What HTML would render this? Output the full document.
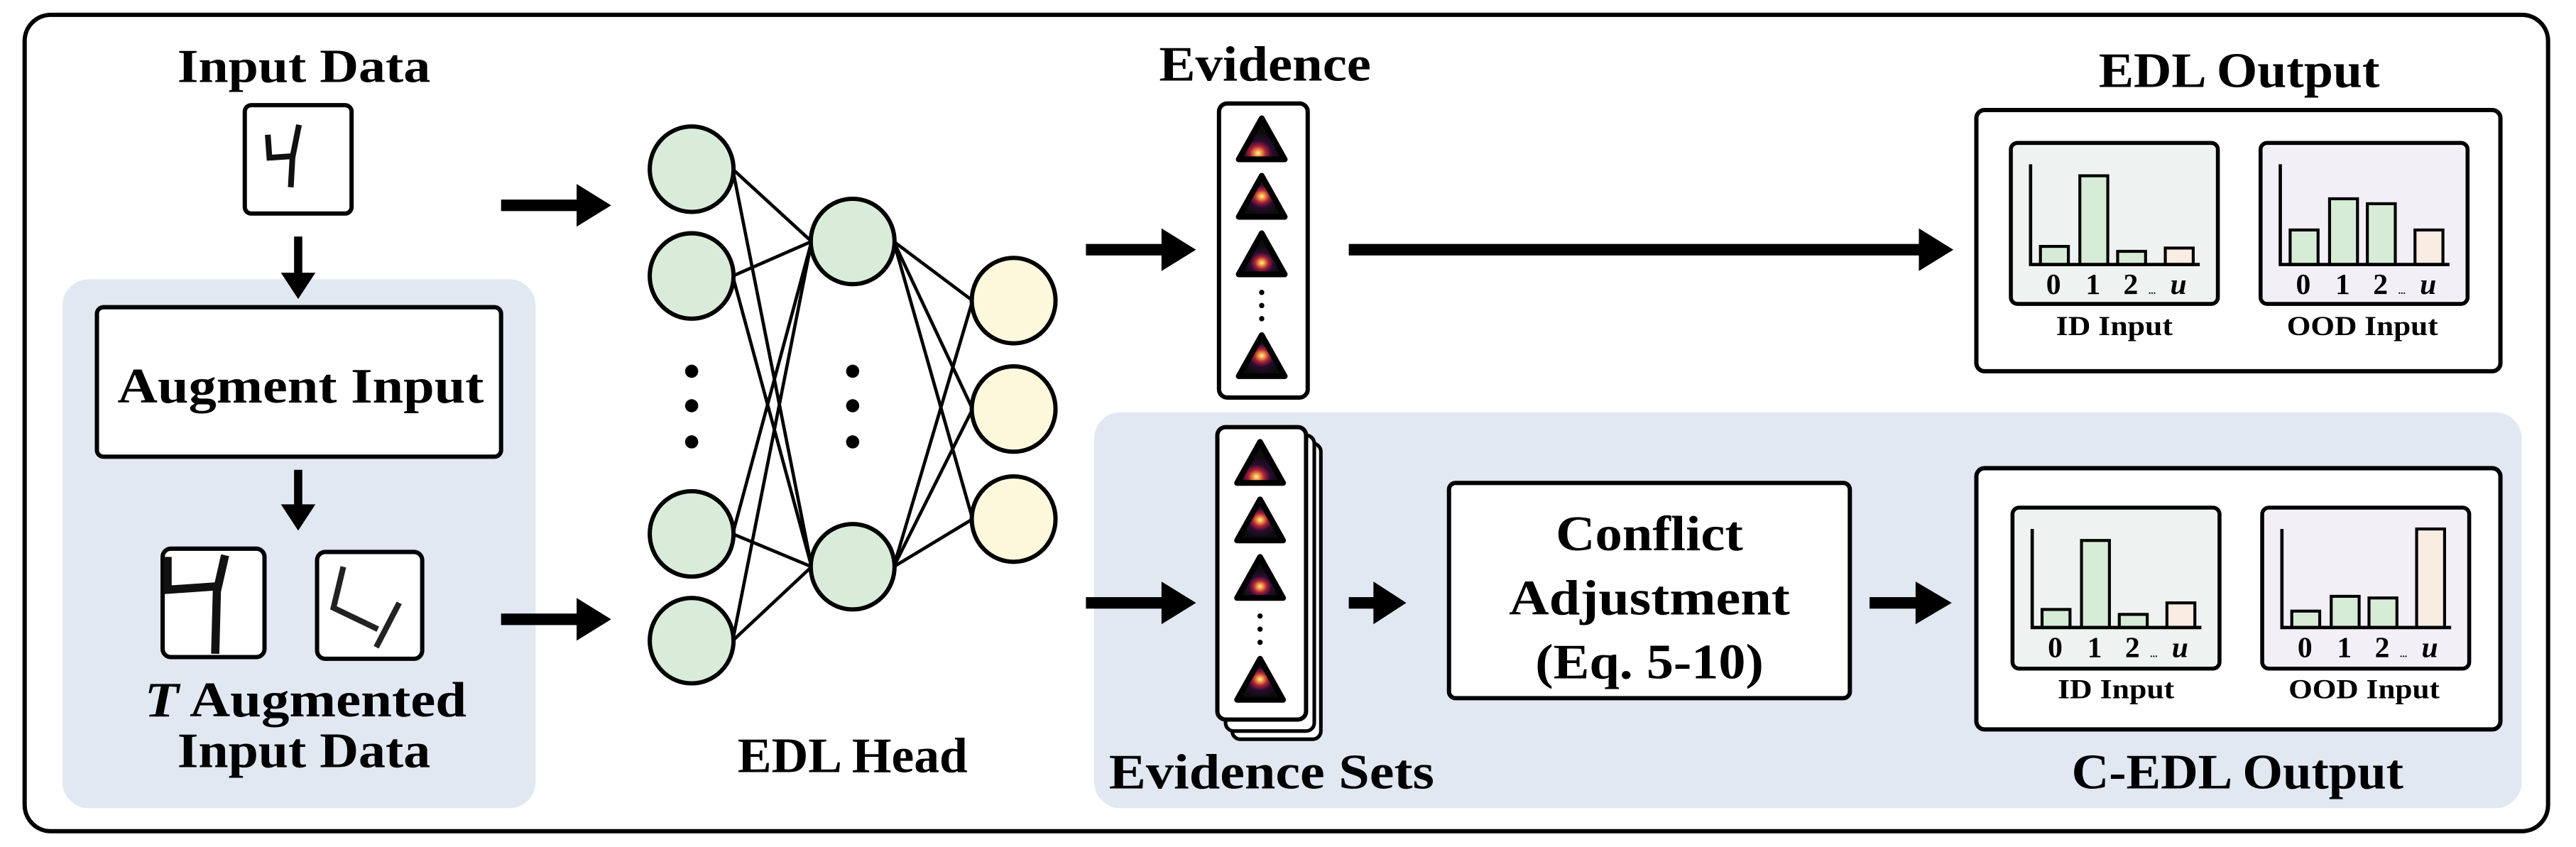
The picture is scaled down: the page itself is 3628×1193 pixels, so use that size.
<!DOCTYPE html>
<html><head><meta charset="utf-8"><style>
html,body{margin:0;padding:0;background:#fff;}
svg{display:block;}
text{font-family:"Liberation Serif",serif;font-weight:bold;fill:#000;}
</style></head><body>
<svg width="3628" height="1193" viewBox="0 0 1568 515.6" preserveAspectRatio="none" xmlns="http://www.w3.org/2000/svg">
<defs>
<radialGradient id="g1" cx="0.42" cy="0.85" r="0.5"><stop offset="0" stop-color="#fff3c0"/><stop offset="0.15" stop-color="#f49a3a"/><stop offset="0.35" stop-color="#a8203c"/><stop offset="0.6" stop-color="#2a0c30"/><stop offset="1" stop-color="#0c0c0c"/></radialGradient>
<radialGradient id="g2" cx="0.5" cy="0.5" r="0.45"><stop offset="0" stop-color="#fff3c0"/><stop offset="0.15" stop-color="#f49a3a"/><stop offset="0.35" stop-color="#a8203c"/><stop offset="0.6" stop-color="#2a0c30"/><stop offset="1" stop-color="#0c0c0c"/></radialGradient>
<radialGradient id="g3" cx="0.5" cy="0.72" r="0.42"><stop offset="0" stop-color="#fff3c0"/><stop offset="0.15" stop-color="#f49a3a"/><stop offset="0.35" stop-color="#a8203c"/><stop offset="0.6" stop-color="#2a0c30"/><stop offset="1" stop-color="#0c0c0c"/></radialGradient>
<g id="tri1"><path d="M0,-13 L14,12 L-14,12 Z" fill="url(#g1)" stroke="#000" stroke-width="3.5" stroke-linejoin="round"/></g>
<g id="tri2"><path d="M0,-13 L14,12 L-14,12 Z" fill="url(#g2)" stroke="#000" stroke-width="3.5" stroke-linejoin="round"/></g>
<g id="tri3"><path d="M0,-13 L14,12 L-14,12 Z" fill="url(#g3)" stroke="#000" stroke-width="3.5" stroke-linejoin="round"/></g>
<g id="arrR"><rect x="0" y="-3.5" width="48" height="7" fill="#000"/><path d="M46,-13 L67,0 L46,13 Z" fill="#000"/></g>
<g id="col">
  <use href="#tri1" x="0" y="0"/><use href="#tri2" x="0" y="35"/><use href="#tri3" x="0" y="70"/>
  <circle cx="0" cy="93" r="1.6"/><circle cx="0" cy="101" r="1.6"/><circle cx="0" cy="109" r="1.6"/>
  <use href="#tri2" x="0" y="132"/>
</g>
</defs>

<rect x="15" y="9" width="1536" height="497" rx="16" fill="#fff" stroke="#000" stroke-width="2.6"/>
<rect x="38" y="170" width="288" height="322" rx="16" fill="#e1e8f1"/>
<rect x="666" y="251" width="869" height="241" rx="16" fill="#e1e8f1"/>

<text x="185" y="50" font-size="29" text-anchor="middle" textLength="154" lengthAdjust="spacingAndGlyphs">Input Data</text>
<rect x="149" y="64" width="65" height="66" rx="4" fill="#fff" stroke="#000" stroke-width="2.6"/>
<path d="M163,82 L164,96 L179,95 M182,76 L178,96 L177,114" fill="none" stroke="#111" stroke-width="3.5"/>
<rect x="179" y="144" width="5" height="24" fill="#000"/><path d="M171,166 L181.5,182 L192,166 Z" fill="#000"/>
<rect x="59" y="187" width="246" height="91" rx="4" fill="#fff" stroke="#000" stroke-width="2.6"/>
<text x="183" y="245" font-size="30" text-anchor="middle" textLength="223" lengthAdjust="spacingAndGlyphs">Augment Input</text>
<rect x="179" y="286" width="5" height="24" fill="#000"/><path d="M171,307 L181.5,323 L192,307 Z" fill="#000"/>
<rect x="99" y="334" width="62" height="66" rx="5" fill="#fff" stroke="#000" stroke-width="2.6"/>
<path d="M102,339 L102,359 L131,357 M137,338 L132,360 L131,398" fill="none" stroke="#111" stroke-width="5"/>
<rect x="193" y="336" width="64" height="65" rx="5" fill="#fff" stroke="#000" stroke-width="2.6"/>
<path d="M209,345 L203,370 L230,383 M243,367 L229,394" fill="none" stroke="#222" stroke-width="3.5"/>
<text x="186" y="436" font-size="30" text-anchor="middle" textLength="196" lengthAdjust="spacingAndGlyphs"><tspan font-style="italic">T</tspan> Augmented</text>
<text x="185" y="467" font-size="30" text-anchor="middle" textLength="154" lengthAdjust="spacingAndGlyphs">Input Data</text>

<use href="#arrR" x="305" y="125"/>
<use href="#arrR" x="305" y="377"/>

<g stroke="#000" stroke-width="2">
<line x1="446" y1="103" x2="494" y2="147"/><line x1="446" y1="103" x2="494" y2="345"/>
<line x1="446" y1="168" x2="494" y2="147"/><line x1="446" y1="168" x2="494" y2="345"/>
<line x1="446" y1="325" x2="494" y2="147"/><line x1="446" y1="325" x2="494" y2="345"/>
<line x1="446" y1="390" x2="494" y2="147"/><line x1="446" y1="390" x2="494" y2="345"/>
<line x1="544" y1="147" x2="592" y2="183"/><line x1="544" y1="147" x2="592" y2="249"/><line x1="544" y1="147" x2="592" y2="316"/>
<line x1="544" y1="345" x2="592" y2="183"/><line x1="544" y1="345" x2="592" y2="249"/><line x1="544" y1="345" x2="592" y2="316"/>
</g>
<g stroke="#000" stroke-width="2.6" fill="#d9ecd9">
<ellipse cx="421" cy="103" rx="25.5" ry="26"/><ellipse cx="421" cy="168" rx="25.5" ry="26"/>
<ellipse cx="421" cy="325" rx="25.5" ry="26"/><ellipse cx="421" cy="390" rx="25.5" ry="26"/>
<ellipse cx="519" cy="147" rx="25.5" ry="26"/><ellipse cx="519" cy="345" rx="25.5" ry="26"/>
</g>
<g stroke="#000" stroke-width="2.6" fill="#fdf8dc">
<ellipse cx="617" cy="183" rx="25.5" ry="26"/><ellipse cx="617" cy="249" rx="25.5" ry="26"/><ellipse cx="617" cy="316" rx="25.5" ry="26"/>
</g>
<g fill="#000">
<circle cx="421" cy="226" r="4"/><circle cx="421" cy="247" r="4"/><circle cx="421" cy="269" r="4"/>
<circle cx="519" cy="226" r="4"/><circle cx="519" cy="247" r="4"/><circle cx="519" cy="269" r="4"/>
</g>
<text x="519" y="470" font-size="30" text-anchor="middle" textLength="140" lengthAdjust="spacingAndGlyphs">EDL Head</text>

<text x="770" y="49" font-size="30" text-anchor="middle" textLength="129" lengthAdjust="spacingAndGlyphs">Evidence</text>
<use href="#arrR" x="661" y="152"/>
<rect x="742" y="63" width="54" height="179" rx="5" fill="#fff" stroke="#000" stroke-width="2.6"/>
<use href="#col" x="768" y="85"/>
<rect x="821" y="148.5" width="350" height="7" fill="#000"/><path d="M1168,139 L1189,152 L1168,165 Z" fill="#000"/>

<use href="#arrR" x="661" y="367"/>
<rect x="750" y="270" width="54" height="180" rx="5" fill="#fff" stroke="#000" stroke-width="2.2"/>
<rect x="746" y="265" width="54" height="180" rx="5" fill="#fff" stroke="#000" stroke-width="2.2"/>
<rect x="741" y="260" width="54" height="178" rx="5" fill="#fff" stroke="#000" stroke-width="2.6"/>
<use href="#col" x="767" y="282"/>
<text x="774" y="480" font-size="30" text-anchor="middle" textLength="198" lengthAdjust="spacingAndGlyphs">Evidence Sets</text>
<rect x="821" y="363.5" width="18" height="7" fill="#000"/><path d="M836,354 L856,367 L836,380 Z" fill="#000"/>
<rect x="882" y="294" width="244" height="131" rx="4" fill="#fff" stroke="#000" stroke-width="2.6"/>
<text x="1004" y="335" font-size="30" text-anchor="middle" textLength="114" lengthAdjust="spacingAndGlyphs">Conflict</text>
<text x="1004" y="374" font-size="30" text-anchor="middle" textLength="171" lengthAdjust="spacingAndGlyphs">Adjustment</text>
<text x="1004" y="413" font-size="30" text-anchor="middle" textLength="139" lengthAdjust="spacingAndGlyphs">(Eq. 5-10)</text>
<rect x="1138" y="363.5" width="30" height="7" fill="#000"/><path d="M1166,354 L1188,367 L1166,380 Z" fill="#000"/>

<text x="1363" y="53" font-size="30" text-anchor="middle" textLength="171" lengthAdjust="spacingAndGlyphs">EDL Output</text>
<rect x="1203" y="67" width="319" height="159" rx="5" fill="#fff" stroke="#000" stroke-width="2.6"/>
<rect x="1203" y="285" width="319" height="159" rx="5" fill="#fff" stroke="#000" stroke-width="2.6"/>
<text x="1362" y="480" font-size="30" text-anchor="middle" textLength="202" lengthAdjust="spacingAndGlyphs">C-EDL Output</text>

<g transform="translate(1224,87)">
 <rect x="0" y="0" width="126" height="98" rx="4" fill="#eef2f1" stroke="#000" stroke-width="2.4"/>
 <g stroke="#000" stroke-width="1.8" fill="#d7ecd6">
 <rect x="18" y="63" width="17" height="11"/><rect x="42" y="20" width="17" height="54"/><rect x="65" y="66" width="17" height="8"/><rect x="94" y="64" width="17" height="10" fill="#f9ece3"/>
 </g>
 <path d="M12,13 L12,74 L115,74" fill="none" stroke="#000" stroke-width="2"/>
 <text x="26" y="92" font-size="18" font-weight="normal" text-anchor="middle">0</text><text x="50" y="92" font-size="18" font-weight="normal" text-anchor="middle">1</text><text x="73" y="92" font-size="18" font-weight="normal" text-anchor="middle">2</text><text x="86" y="92" font-size="6" font-weight="normal" text-anchor="middle">...</text><text x="102" y="92" font-size="18" font-style="italic" text-anchor="middle">u</text>
</g>
<g transform="translate(1376,87)">
 <rect x="0" y="0" width="126" height="98" rx="4" fill="#f3eff7" stroke="#000" stroke-width="2.4"/>
 <g stroke="#000" stroke-width="1.8" fill="#d7ecd6">
 <rect x="18" y="53" width="17" height="21"/><rect x="42" y="34" width="17" height="40"/><rect x="65" y="37" width="17" height="37"/><rect x="94" y="53" width="17" height="21" fill="#f9ece3"/>
 </g>
 <path d="M12,13 L12,74 L115,74" fill="none" stroke="#000" stroke-width="2"/>
 <text x="26" y="92" font-size="18" font-weight="normal" text-anchor="middle">0</text><text x="50" y="92" font-size="18" font-weight="normal" text-anchor="middle">1</text><text x="73" y="92" font-size="18" font-weight="normal" text-anchor="middle">2</text><text x="86" y="92" font-size="6" font-weight="normal" text-anchor="middle">...</text><text x="102" y="92" font-size="18" font-style="italic" text-anchor="middle">u</text>
</g>
<text x="1287" y="204" font-size="17" text-anchor="middle" font-weight="normal" textLength="71" lengthAdjust="spacingAndGlyphs">ID Input</text>
<text x="1438" y="204" font-size="17" text-anchor="middle" font-weight="normal" textLength="92" lengthAdjust="spacingAndGlyphs">OOD Input</text>

<g transform="translate(1225,309)">
 <rect x="0" y="0" width="126" height="98" rx="4" fill="#eef2f1" stroke="#000" stroke-width="2.4"/>
 <g stroke="#000" stroke-width="1.8" fill="#d7ecd6">
 <rect x="18" y="62" width="17" height="11"/><rect x="42" y="20" width="17" height="53"/><rect x="65" y="65" width="17" height="8"/><rect x="94" y="58" width="17" height="15" fill="#f9ece3"/>
 </g>
 <path d="M12,13 L12,73 L115,73" fill="none" stroke="#000" stroke-width="2"/>
 <text x="26" y="91" font-size="18" font-weight="normal" text-anchor="middle">0</text><text x="50" y="91" font-size="18" font-weight="normal" text-anchor="middle">1</text><text x="73" y="91" font-size="18" font-weight="normal" text-anchor="middle">2</text><text x="86" y="91" font-size="6" font-weight="normal" text-anchor="middle">...</text><text x="102" y="91" font-size="18" font-style="italic" text-anchor="middle">u</text>
</g>
<g transform="translate(1377,309)">
 <rect x="0" y="0" width="126" height="98" rx="4" fill="#f3eff7" stroke="#000" stroke-width="2.4"/>
 <g stroke="#000" stroke-width="1.8" fill="#d7ecd6">
 <rect x="18" y="63" width="17" height="10"/><rect x="42" y="54" width="17" height="19"/><rect x="65" y="55" width="17" height="18"/><rect x="94" y="13" width="17" height="60" fill="#f9ece3"/>
 </g>
 <path d="M12,13 L12,73 L115,73" fill="none" stroke="#000" stroke-width="2"/>
 <text x="26" y="91" font-size="18" font-weight="normal" text-anchor="middle">0</text><text x="50" y="91" font-size="18" font-weight="normal" text-anchor="middle">1</text><text x="73" y="91" font-size="18" font-weight="normal" text-anchor="middle">2</text><text x="86" y="91" font-size="6" font-weight="normal" text-anchor="middle">...</text><text x="102" y="91" font-size="18" font-style="italic" text-anchor="middle">u</text>
</g>
<text x="1288" y="425" font-size="17" text-anchor="middle" font-weight="normal" textLength="71" lengthAdjust="spacingAndGlyphs">ID Input</text>
<text x="1439" y="425" font-size="17" text-anchor="middle" font-weight="normal" textLength="92" lengthAdjust="spacingAndGlyphs">OOD Input</text>
</svg>
</body></html>
